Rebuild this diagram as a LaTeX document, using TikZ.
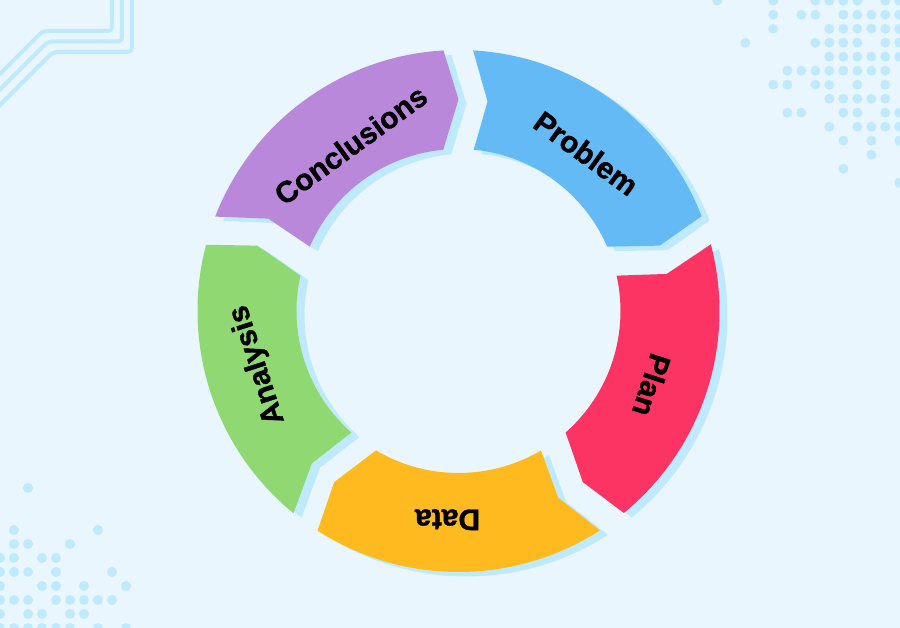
\documentclass[tikz,border=0pt]{standalone}
\usepackage{fontspec}
\setmainfont{Liberation Sans}
\newfontfamily\segfont[FakeBold=1.2]{Liberation Sans}
\usepackage{tikz}
\usepackage{xcolor}
\definecolor{bgblue}{RGB}{233,246,254}
\definecolor{decoblue}{RGB}{191,234,253}
\definecolor{segpurple}{RGB}{186,136,219}
\definecolor{segblue}{RGB}{100,186,245}
\definecolor{segred}{RGB}{252,52,100}
\definecolor{segorange}{RGB}{254,186,30}
\definecolor{seggreen}{RGB}{143,216,114}
% one arrow segment of the ring, centred on angle #1
\newcommand{\ringseg}[1]{(#1+32.8:261pt) arc[start angle=#1+32.8, end angle=#1-32.7, radius=261pt]
  -- (#1-36:211.5pt) -- (#1-30.6:162pt) arc[start angle=#1-30.6, end angle=#1+30.6, radius=162pt]
  -- (#1+28.1:211.5pt) -- cycle}

\begin{document}
\begin{tikzpicture}[x=1pt, y=1pt,
    seglabel/.style={font=\segfont\bfseries\fontsize{30}{31}\selectfont, text=black, inner sep=0pt},
    traceline/.style={draw=decoblue, line width=4pt, rounded corners=4pt},
    dotfill/.style={fill=decoblue}]
  % background
  \useasboundingbox (-458.5,-317) rectangle (441.5,311);
  \clip (-458.5,-317) rectangle (441.5,311);
  \fill[bgblue] (-458.5,-317) rectangle (441.5,311);
  % corner decorations (pixel coordinates, y down)
  \begin{scope}[shift={(-458.5,311)}, yscale=-1]
    \draw[traceline] (112,-5) -- (112,31) -- (43,31) -- (-10,84);
    \draw[traceline] (122,-5) -- (122,41.5) -- (48,41.5) -- (-10,99.5);
    \draw[traceline] (132,-5) -- (132,52) -- (53,52) -- (-10,115);
    % dots top right
    \foreach \j/\cols in {0/{0,4,7,8,9,10,12,13}, 1/{4,6,7,9,10,11,12,13}, 2/{4,8,9,10,11,12,13},
        3/{2,7,8,9,10,12,13}, 4/{8,9,10,11,12,13}, 5/{5,6,7,8,9,10,11,12}, 6/{4,5,7,8,10,12},
        7/{8,9,10,11,12}, 8/{5,6,9,10,12,13}, 9/{8,10,11,12,13}, 10/{9,11,13}, 11/{11}, 12/{9}, 13/{13}} {
      \foreach \i in \cols {
        \fill[dotfill] ({717.3+14*\i},{0.7+14*\j}) circle[radius=5pt];
      }
    }
    % dots bottom left
    \foreach \j/\cols in {0/{2}, 3/{1,7}, 4/{1,2,5}, 5/{0,1,3,4}, 6/{0,1,2,4,8}, 7/{0,3,4,6,9},
        8/{0,1,2,4,5,6,7,8}, 9/{0,2,3,5,6}, 10/{0,1,2,3,4,5,7,9}} {
      \foreach \i in \cols {
        \fill[dotfill] ({14*\i},{488+14*\j}) circle[radius=5pt];
      }
    }
  \end{scope}
  % shadows
  \foreach \c in {126,54,-18,-90,-162} {
    \fill[decoblue, xshift=8pt, yshift=-4.5pt] \ringseg{\c};
  }
  % segments and labels
  \foreach \c/\col/\txt/\nm/\r in {126/segpurple/Conclusions/concl/198, 54/segblue/Problem/problem/203,
      -18/segred/Plan/plan/207, -90/segorange/Data/data/209, -162/seggreen/Analysis/analysis/208} {
    \fill[\col] \ringseg{\c};
    \node[seglabel, rotate=\c-90] (\nm) at (\c-3:\r pt) {\txt};
  }
\end{tikzpicture}
\end{document}
